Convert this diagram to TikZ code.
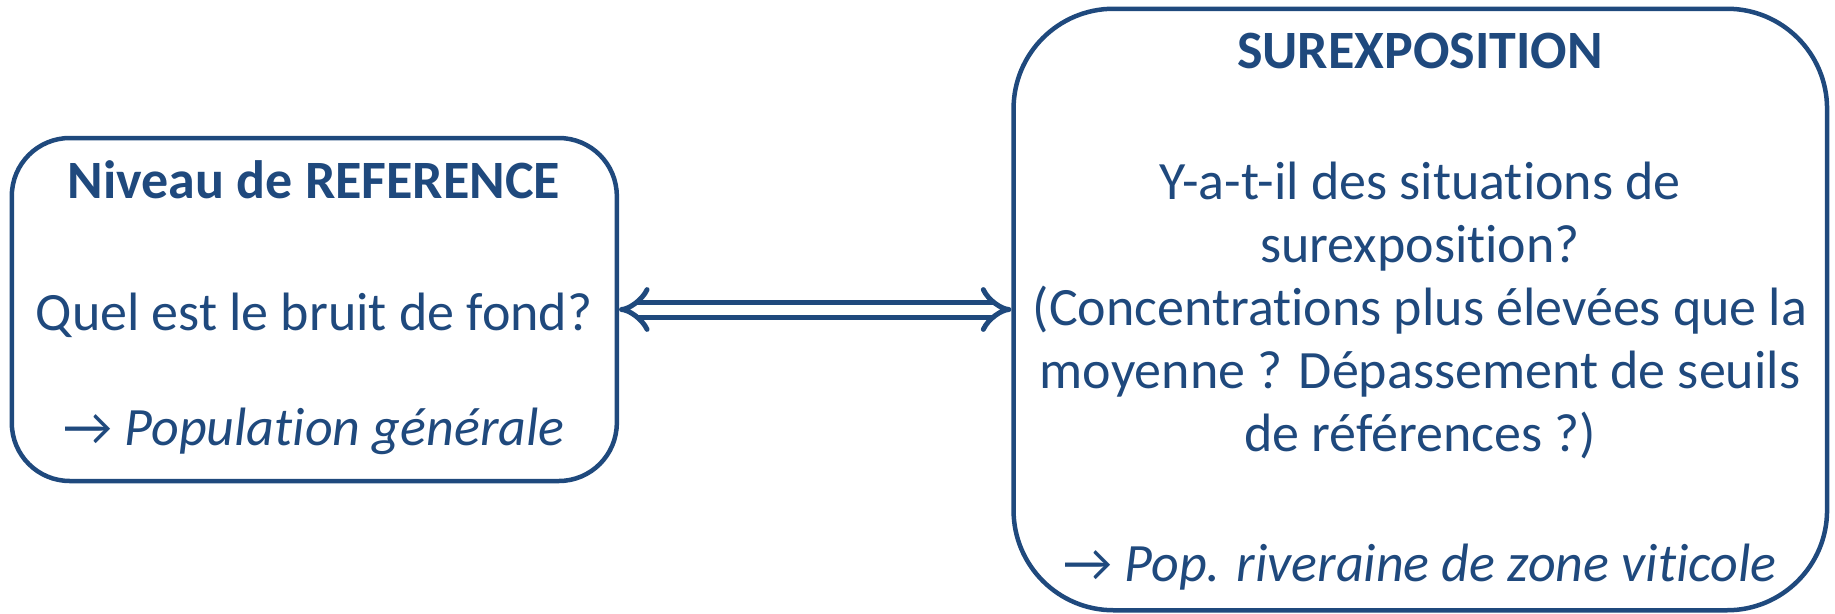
\documentclass[tikz,border=0pt]{standalone}
\usepackage{fontspec}
\setmainfont{Carlito}[Ligatures={NoCommon}]
\usetikzlibrary{arrows.meta}
\definecolor{navy}{HTML}{1F497D}
\begin{document}
\begin{tikzpicture}[x=1pt,y=-1pt,
  box/.style={draw=navy, line width=4.5pt, rounded corners=#1, inner sep=0pt},
  txt/.style={text=navy, anchor=base, inner sep=0pt, font=\fontsize{54}{63}\selectfont},
  bold/.style={txt, font=\fontsize{54}{63}\selectfont\bfseries},
  ital/.style={txt, font=\fontsize{54}{63}\selectfont\itshape},
  link/.style={draw=navy, line width=5pt, double=white, double distance=10pt, {Implies}-{Implies}}]
\useasboundingbox (0,0) rectangle (1835,613);
\node[box=58pt, minimum width=605pt, minimum height=343pt] (L) at (314.3,309.5) {};
\node[box=100pt, minimum width=813.5pt, minimum height=601.5pt] (R) at (1420.3,309.5) {};
\node[bold] (lt) at (314,198) {Niveau de REFERENCE};
\node[txt] (lq) at (314,330) {Quel est le bruit de fond?};
\node[ital] (lp) at (314,445) {{\upshape →} Population générale};
\node[bold] (rt) at (1420,68) {SUREXPOSITION};
\node[txt] (r1) at (1420,199) {Y-a-t-il des situations de};
\node[txt] (r2) at (1420,262) {surexposition?};
\node[txt] (r3) at (1420,325) {(Concentrations plus élevées que la};
\node[txt] (r4) at (1420,388) {moyenne ? Dépassement de seuils};
\node[txt] (r5) at (1420,451) {de références ?)};
\node[ital] (rp) at (1420,581) {{\upshape →} Pop. riveraine de zone viticole};
\draw[link] (L.east) -- (R.west);
\end{tikzpicture}
\end{document}
